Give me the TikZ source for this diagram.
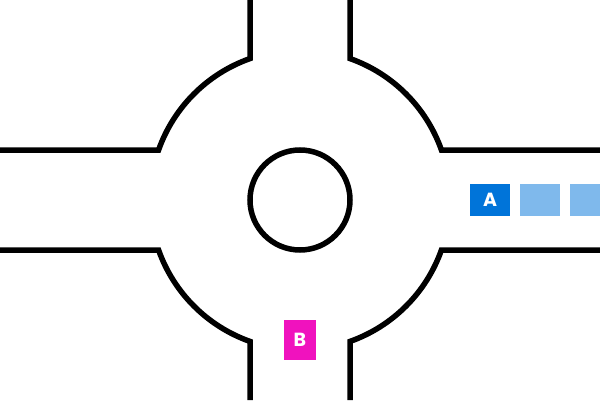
\documentclass[tikz,border=0pt]{standalone}
\usepackage{fontspec}
\setmainfont{Poppins}
\definecolor{carA}{HTML}{0074D9}
\definecolor{carQ}{HTML}{7FB9EC}
\definecolor{carB}{HTML}{F012BE}
\begin{document}
\begin{tikzpicture}[x=1pt,y=1pt,
  road/.style={line width=5.5pt,black},
  car/.style={minimum width=40pt,minimum height=32pt,inner sep=0pt,text=white,font=\fontsize{19}{19}\selectfont\bfseries},
  carv/.style={car,minimum width=32pt,minimum height=40pt}]
\useasboundingbox (0,0) rectangle (600,400);
\fill[white] (0,0) rectangle (600,400);
\draw[road] (0,250) -- (158.58,250) arc[start angle=160.53,end angle=109.47,radius=150] -- (250,400);
\draw[road] (350,400) -- (350,341.42) arc[start angle=70.53,end angle=19.47,radius=150] -- (600,250);
\draw[road] (600,150) -- (441.42,150) arc[start angle=-19.47,end angle=-70.53,radius=150] -- (350,0);
\draw[road] (250,0) -- (250,58.58) arc[start angle=-109.47,end angle=-160.53,radius=150] -- (0,150);
\draw[road] (300,200) circle[radius=50];
\node[car,fill=carA] (a) at (490,200) {A};
\node[car,fill=carQ] (q1) at (540,200) {};
\node[car,fill=carQ] (q2) at (590,200) {};
\node[carv,fill=carB] (b) at (300,60) {B};
\end{tikzpicture}
\end{document}
